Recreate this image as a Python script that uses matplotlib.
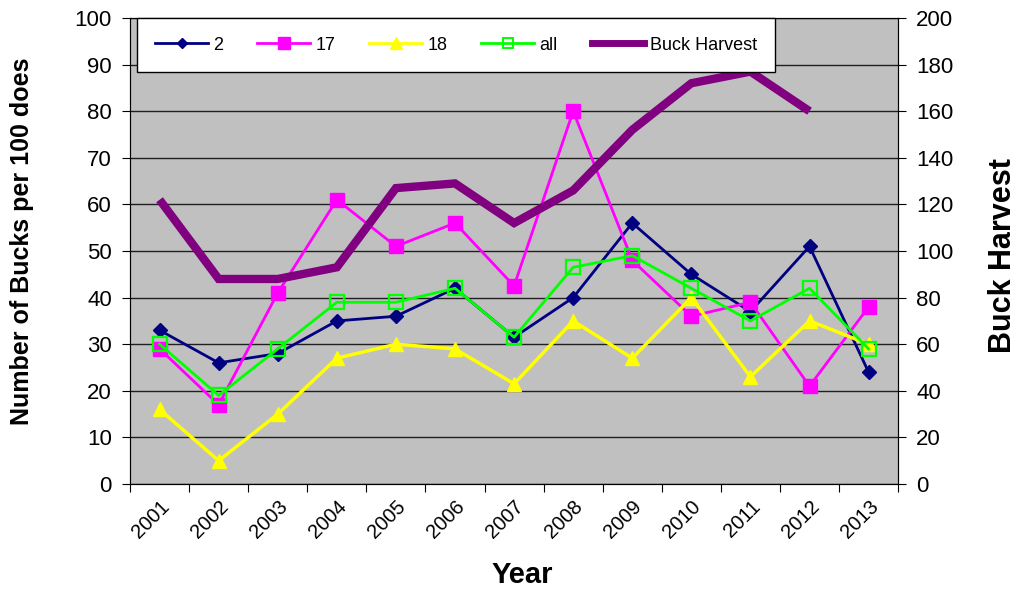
import matplotlib.pyplot as plt
from matplotlib.lines import Line2D
import numpy as np

plt.rcParams["font.family"] = ["Liberation Sans", "DejaVu Sans"]

years = ["2001", "2002", "2003", "2004", "2005", "2006", "2007",
         "2008", "2009", "2010", "2011", "2012", "2013"]
unit_2 = [33, 26, 28, 35, 36, 42, 31.5, 40, 56, 45, 37, 51, 24]
unit_17 = [29, 17, 41, 61, 51, 56, 42.5, 80, 48, 36, 39, 21, 38]
unit_18 = [16, 5, 15, 27, 30, 29, 21.5, 35, 27, 40, 23, 35, 30]
unit_all = [30, 19, 29, 39, 39, 42, 31.5, 46.5, 49, 42, 35, 42, 29]
buck_harvest = [122, 88, 88, 93, 127, 129, 112, 126, 152, 172, 177, 160, np.nan]

x = np.arange(len(years))

fig = plt.figure(figsize=(10.16, 5.92), dpi=100)
ax = fig.add_axes([0.128, 0.1824, 0.756, 0.7872])
ax.set_facecolor("#C0C0C0")

ax.plot(x, unit_2, color="#000080", lw=2, marker="D", ms=6.8, label="2", zorder=3)
ax.plot(x, unit_17, color="#FF00FF", lw=2, marker="s", ms=10.5, label="17", zorder=3)
ax.plot(x, unit_18, color="#FFFF00", lw=2.5, marker="^", ms=10, label="18", zorder=3)
ax.plot(x, unit_all, color="#00FF00", lw=2, marker="s", ms=9.5, mfc="none",
        mew=1.6, label="all", zorder=3)

ax.set_xlim(-0.5, len(years) - 0.5)
ax.set_ylim(0, 100)
ax.set_yticks(np.arange(0, 101, 10))
ax.yaxis.grid(True, color="#202020", lw=1)
ax.set_axisbelow(True)

# tick marks sit between categories, labels at the category centres
ax.set_xticks(np.arange(-0.5, len(years), 1))
ax.set_xticklabels([])
ax.set_xticks(x, minor=True)
ax.set_xticklabels(years, minor=True, rotation=45, ha="right", va="top",
                   rotation_mode="anchor", fontsize=14.5)
ax.tick_params(axis="x", which="major", length=6, direction="out")
ax.tick_params(axis="x", which="minor", length=0, pad=9)
ax.tick_params(axis="y", labelsize=16, length=6, direction="out", pad=7)
for s in ax.spines.values():
    s.set_color("#303030")

ax.set_xlabel("Year", fontsize=21, fontweight="bold", va="center")
ax.xaxis.set_label_coords(0.51, -0.195)
ax.set_ylabel("Number of Bucks per 100 does", fontsize=18, fontweight="bold",
              va="center")
ax.yaxis.set_label_coords(-0.141, 0.52)

ax2 = ax.twinx()
ax2.plot(x, buck_harvest, color="#800080", lw=6, solid_joinstyle="miter",
         solid_capstyle="butt", label="Buck Harvest")
ax2.set_ylim(0, 200)
ax2.set_yticks(np.arange(0, 201, 20))
ax2.tick_params(axis="y", labelsize=16, length=6, direction="out", pad=7)
ax2.set_ylabel("Buck Harvest", fontsize=22, fontweight="bold", va="center")
ax2.yaxis.set_label_coords(1.136, 0.49)

handles = [
    Line2D([], [], color="#000080", lw=2, marker="D", ms=5.5),
    Line2D([], [], color="#FF00FF", lw=2, marker="s", ms=8),
    Line2D([], [], color="#FFFF00", lw=2, marker="^", ms=8),
    Line2D([], [], color="#00FF00", lw=2, marker="s", ms=6.5, mfc="none", mew=1.4),
    Line2D([], [], color="#800080", lw=5),
]
leg = ax2.legend(handles, ["2", "17", "18", "all", "Buck Harvest"], ncol=5,
                 loc="center", bbox_to_anchor=(456 / 1016, 1 - 45 / 592),
                 bbox_transform=fig.transFigure, fontsize=13,
                 handlelength=2.9, columnspacing=1.9, handletextpad=0.3,
                 borderpad=1.0, fancybox=False, framealpha=1, edgecolor="black")
leg.get_frame().set_linewidth(1)
leg.set_zorder(10)

fig.savefig("out.png", dpi=100)
